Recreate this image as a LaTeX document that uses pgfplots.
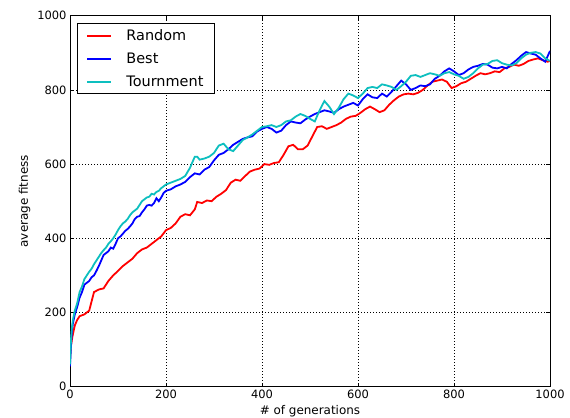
\documentclass[border=0pt]{standalone}
\usepackage{pgfplots}
\pgfplotsset{compat=1.18}
\usepackage{pgfplotstable}
\usepackage{fontspec}
\setmainfont{DejaVu Sans}
\definecolor{mplred}{rgb}{1,0,0}
\definecolor{mplblue}{rgb}{0,0,1}
\definecolor{mplcyan}{rgb}{0.05,0.75,0.75}

\pgfplotstableread{
g f
0 75
2 110
5 135
10 165
15 180
20 190
30 195
40 205
45 230
50 255
60 262
70 265
80 285
90 300
100 312
110 325
120 335
130 345
140 360
150 370
160 375
170 385
180 395
190 405
200 422
210 428
220 440
230 458
240 465
250 462
260 478
265 498
275 495
285 502
295 500
305 512
315 520
325 530
335 550
345 558
355 555
365 568
375 580
385 585
395 588
405 600
415 598
425 603
435 605
445 625
455 648
465 652
475 640
485 640
495 650
505 675
515 700
525 702
535 695
545 700
555 705
565 712
575 722
585 728
595 730
605 738
615 748
625 755
635 748
645 740
655 745
665 760
675 772
685 782
695 788
705 790
715 788
725 792
735 800
745 812
755 822
765 825
775 828
785 822
795 805
805 810
815 818
825 822
835 830
845 838
855 845
865 842
875 845
885 850
895 848
905 858
915 862
925 868
935 865
945 870
955 878
965 882
975 885
985 880
995 876
1000 878
}\randomtab

\pgfplotstableread{
g f
0 55
2 110
4 150
6 170
10 195
15 215
20 240
25 255
30 275
35 280
40 285
45 295
50 300
55 312
60 325
65 340
70 355
75 360
80 365
85 375
90 372
95 385
100 400
105 405
110 412
115 420
120 425
125 432
130 440
135 452
140 458
145 460
150 470
155 478
160 488
165 490
170 488
175 495
180 508
185 500
190 510
195 522
200 528
210 532
220 540
230 545
240 552
250 565
260 575
270 572
280 585
290 592
300 610
310 625
320 630
330 640
340 652
350 660
360 668
370 672
380 675
390 688
400 695
410 700
420 695
430 685
440 690
450 705
460 715
470 712
480 710
490 720
500 728
510 735
520 740
530 745
540 742
550 738
560 748
570 755
580 760
590 765
600 758
610 775
620 788
630 780
640 778
650 790
660 782
670 795
680 810
690 825
700 815
710 800
720 805
730 812
740 810
750 815
760 830
770 838
780 850
790 858
800 850
810 840
820 845
830 855
840 862
850 865
860 870
870 868
880 860
890 858
900 862
910 858
920 870
930 880
940 892
950 902
960 898
970 895
980 885
990 876
1000 905
}\besttab

\pgfplotstableread{
g f
0 60
2 125
4 160
6 180
10 205
15 225
20 255
25 270
30 290
35 300
40 310
45 318
50 330
55 340
60 350
65 360
70 368
75 375
80 385
85 392
90 400
95 410
100 422
105 432
110 440
115 445
120 452
125 462
130 470
135 475
140 480
145 490
150 500
155 505
160 510
165 512
170 520
175 518
180 525
185 528
190 535
195 540
200 545
210 550
220 555
230 560
240 568
250 590
260 620
265 620
270 612
280 615
290 620
300 630
310 650
320 655
330 640
340 635
350 650
360 665
370 672
380 680
390 690
400 700
410 702
420 705
430 700
440 705
450 715
460 718
470 728
480 735
490 730
500 722
510 715
520 745
530 770
540 755
550 735
560 752
570 775
580 790
590 785
600 778
610 790
620 805
630 808
640 805
650 815
660 812
670 808
680 800
690 810
700 822
710 838
720 840
730 835
740 840
750 845
760 842
770 838
780 845
790 848
800 842
810 838
820 830
830 835
840 845
850 858
860 868
870 870
880 878
890 880
900 872
910 868
920 866
930 872
940 885
950 895
960 900
970 902
980 898
990 885
1000 878
}\tourtab

\begin{document}
\begin{tikzpicture}
\fill[white] (-70bp,-31bp) rectangle (500bp,386.7bp);
\begin{axis}[
  at={(0,0)}, anchor=south west,
  scale only axis, width=480bp, height=371bp,
  xmin=0, xmax=1000, ymin=0, ymax=1000,
  xtick={0,200,...,1000}, ytick={0,200,...,1000},
  grid=major,
  major grid style={black, line width=0.5bp, dash pattern=on 1bp off 2bp},
  axis line style={black, line width=0.8bp},
  tick align=inside, major tick length=4bp,
  tick style={black, line width=0.6bp},
  xtick pos=both, ytick pos=both,
  tick label style={font=\fontsize{11.5}{13}\selectfont},
  /pgf/number format/assume math mode=true,
  /pgf/number format/1000 sep={},
  xlabel={\# of generations}, ylabel={average fitness},
  label style={font=\fontsize{12}{14}\selectfont},
  legend cell align=left,
  legend style={at={(axis description cs:0.0152,0.9795)}, anchor=north west,
    draw=black, line width=0.6bp, fill=white,
    font=\fontsize{14.5}{17}\selectfont,
    inner xsep=8.5bp, inner ysep=4bp, row sep=6.8bp},
  legend image code/.code={\draw[#1, line width=1.9bp] (0bp,0bp) -- (24bp,0bp); \path (36.5bp,0bp);},
]
\addplot[mplred, line width=1.8bp] table[x=g,y=f] {\randomtab};
\addlegendentry{Random}
\addplot[mplblue, line width=1.8bp] table[x=g,y=f] {\besttab};
\addlegendentry{Best}
\addplot[mplcyan, line width=1.8bp] table[x=g,y=f] {\tourtab};
\addlegendentry{Tournment}
\end{axis}
\pgfresetboundingbox
\path[use as bounding box] (-70bp,-31bp) rectangle (500bp,386.7bp);
\end{tikzpicture}
\end{document}
